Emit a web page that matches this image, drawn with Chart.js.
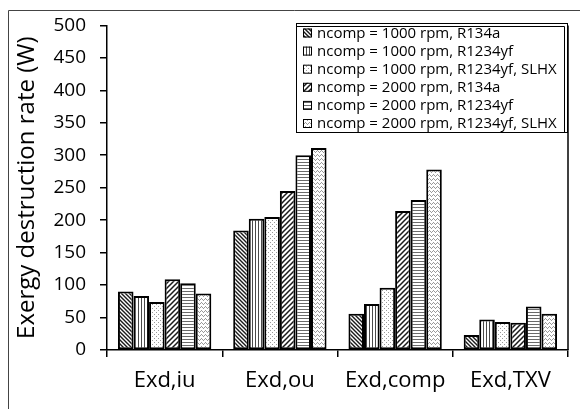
<!DOCTYPE html>
<html>
<head>
<meta charset="utf-8">
<script src="https://cdn.jsdelivr.net/npm/chart.js@4/dist/chart.umd.min.js"></script>
<style>
 html,body{margin:0;padding:0;background:#fff;}
 #c{display:block;}
</style>
</head>
<body>
<canvas id="c" width="580" height="409"></canvas>
<script>
/* ---------------- data ---------------- */
const CATEGORIES=["Exd,iu","Exd,ou","Exd,comp","Exd,TXV"];
const SERIES_LABELS=[
 "ncomp = 1000 rpm, R134a",
 "ncomp = 1000 rpm, R1234yf",
 "ncomp = 1000 rpm, R1234yf, SLHX",
 "ncomp = 2000 rpm, R134a",
 "ncomp = 2000 rpm, R1234yf",
 "ncomp = 2000 rpm, R1234yf, SLHX"
];
const N1000_R134A=[90,184,56,23];
const N1000_R1234YF=[83,202,71,47];
const N1000_R1234YF_SLHX=[74,205,96,43];
const N2000_R134A=[109,245,214,42];
const N2000_R1234YF=[103,300,231,67];
const N2000_R1234YF_SLHX=[87,311,278,56];
const Y_MIN=0, Y_MAX=500, Y_STEP=50;
const Y_TITLE="Exergy destruction rate (W)";

/* ---------------- hatch patterns ---------------- */
function tile(w,h,draw){
 const c=document.createElement("canvas");c.width=w;c.height=h;
 const x=c.getContext("2d");x.fillStyle="#fff";x.fillRect(0,0,w,h);draw(x);
 return document.getElementById("c").getContext("2d").createPattern(c,"repeat");
}
function diag(back,col,lw,p){
 return tile(p,p,x=>{x.strokeStyle=col;x.lineWidth=lw;x.beginPath();
  for(let k=-1;k<=1;k++){
   if(back){x.moveTo(k*p-1,-1);x.lineTo(k*p+p+1,p+1);}
   else{x.moveTo(k*p-1,p+1);x.lineTo(k*p+p+1,-1);}
  }x.stroke();});
}
const PATTERNS=[
 diag(true,"#1a1a1a",1.4,4),
 tile(3,1,x=>{x.fillStyle="#4a4a4a";x.fillRect(0,0,1,1);}),
 tile(4,4,x=>{x.fillStyle="#999";x.fillRect(0,0,1,1);x.fillRect(2,2,1,1);}),
 diag(false,"#1a1a1a",1.5,5),
 tile(1,3,x=>{x.fillStyle="#6a6a6a";x.fillRect(0,0,1,1);}),
 tile(4,4,x=>{x.fillStyle="#999";x.fillRect(0,3,1,1);x.fillRect(1,2,1,1);x.fillRect(3,0,1,1);x.fillRect(2,3,1,1);})
];

const SERIES=[N1000_R134A,N1000_R1234YF,N1000_R1234YF_SLHX,N2000_R134A,N2000_R1234YF,N2000_R1234YF_SLHX];

/* ---------------- frame + legend ---------------- */
const decor={id:"decor",
 afterDraw(chart){
  const ctx=chart.ctx, a=chart.chartArea;
  ctx.save();
  // outer frame (top + left)
  ctx.strokeStyle="#444";ctx.lineWidth=1;
  ctx.beginPath();ctx.moveTo(8.5,409);ctx.lineTo(8.5,10.5);ctx.lineTo(580,10.5);ctx.stroke();
  // right plot border
  ctx.strokeStyle="#000";ctx.lineWidth=1.5;
  ctx.beginPath();ctx.moveTo(a.right,a.top);ctx.lineTo(a.right,a.bottom);ctx.stroke();
  // legend box
  const L=296,T=23,R=568,B=133;
  ctx.fillStyle="#fff";ctx.fillRect(L,T,R-L,B-T);
  ctx.strokeStyle="#000";ctx.lineWidth=1;
  ctx.strokeRect(L+0.5,T+0.5,R-L-1,B-T-1);
  ctx.beginPath();ctx.moveTo(L+1,T+3.5);ctx.lineTo(R-3.5,T+3.5);ctx.lineTo(R-3.5,B-1);ctx.stroke();
  ctx.font="15px 'Open Sans'";ctx.textBaseline="middle";ctx.textAlign="left";
  chart.data.datasets.forEach((d,i)=>{
   const y=33+i*18.1;
   ctx.fillStyle=d.backgroundColor;ctx.fillRect(303,y-4.5,9,9);
   ctx.strokeStyle="#000";ctx.lineWidth=1;ctx.strokeRect(303.5,y-4,8,8);
   ctx.fillStyle="#000";ctx.fillText(d.label,317,y+0.5);
  });
  ctx.restore();
 }};

/* ---------------- chart ---------------- */
new Chart(document.getElementById("c"),{
 type:"bar",
 data:{labels:CATEGORIES,
  datasets:SERIES.map((s,i)=>({label:SERIES_LABELS[i],data:s,backgroundColor:PATTERNS[i],
   borderColor:"#000",borderWidth:2,borderSkipped:false,categoryPercentage:0.81,barPercentage:1}))},
 options:{responsive:false,animation:false,devicePixelRatio:1,
  layout:{padding:{top:22,right:12,left:0,bottom:0}},
  plugins:{legend:{display:false},tooltip:{enabled:false}},
  scales:{
   x:{grid:{offset:true,drawOnChartArea:false,tickLength:7,color:"#000",lineWidth:1.5},
    border:{color:"#000",width:1.5},
    ticks:{color:"#000",font:{family:"Open Sans",size:22},padding:11,maxRotation:0},
    afterFit(s){s.height=59;}},
   y:{min:Y_MIN,max:Y_MAX,
    grid:{drawOnChartArea:false,tickLength:7,color:"#000",lineWidth:1.5},
    border:{color:"#000",width:1.5},
    ticks:{stepSize:Y_STEP,color:"#000",font:{family:"Open Sans",size:19},padding:14},
    title:{display:true,text:Y_TITLE,color:"#000",font:{family:"Open Sans",size:24},padding:{top:13,bottom:0}},
    afterFit(s){s.width=107;}}
  }},
 plugins:[decor]
});
</script>
</body>
</html>
